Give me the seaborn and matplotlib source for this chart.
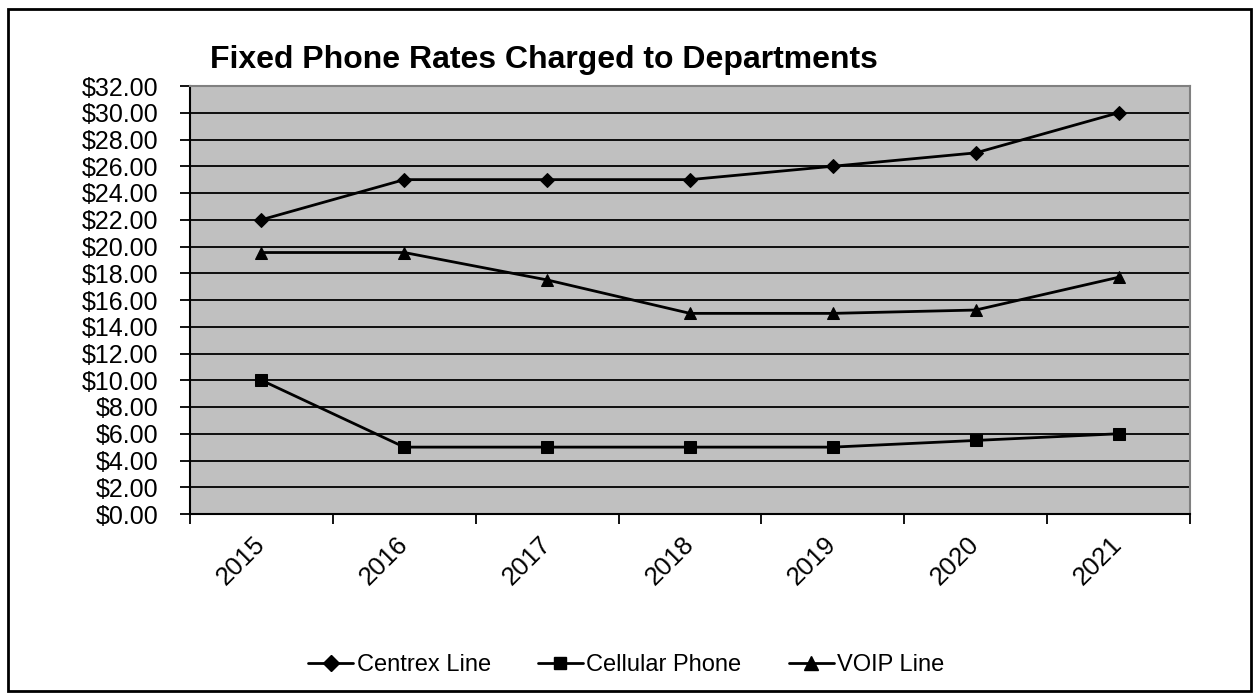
import matplotlib
matplotlib.use("Agg")
import matplotlib.pyplot as plt
import seaborn as sns
import pandas as pd
from matplotlib.patches import Rectangle
from matplotlib.ticker import FixedLocator, FuncFormatter, MultipleLocator

years = ["2015", "2016", "2017", "2018", "2019", "2020", "2021"]
centrex = [22, 25, 25, 25, 26, 27, 30]
cellular = [10, 5, 5, 5, 5, 5.5, 6]
voip = [19.55, 19.55, 17.5, 15, 15, 15.25, 17.7]
series_names = ["Centrex Line", "Cellular Phone", "VOIP Line"]
title = "Fixed Phone Rates Charged to Departments"

rows = []
for name, vals in zip(series_names, [centrex, cellular, voip]):
    for i, (y, v) in enumerate(zip(years, vals)):
        rows.append({"idx": i, "year": y, "value": v, "series": name})
df = pd.DataFrame(rows)

sns.set_theme(style="white")
plt.rcParams["font.family"] = ["Liberation Sans", "DejaVu Sans"]
plt.rcParams["text.color"] = "black"
plt.rcParams["xtick.color"] = "black"
plt.rcParams["ytick.color"] = "black"
plt.rcParams["axes.labelcolor"] = "black"

fig = plt.figure(figsize=(12.6, 7), dpi=100)
ax = fig.add_axes([190 / 1260, 1 - 514 / 700, 1000 / 1260, (514 - 86) / 700])
ax.set_facecolor("#C0C0C0")

markers = {"Centrex Line": "D", "Cellular Phone": "s", "VOIP Line": "^"}
sizes_m = {"Centrex Line": 7, "Cellular Phone": 8, "VOIP Line": 9}
sns.lineplot(data=df, x="idx", y="value", hue="series", style="series",
             markers=markers, dashes=False,
             palette={n: "black" for n in series_names},
             linewidth=2, markersize=9, ax=ax, legend=False, zorder=3)
for line, name in zip(ax.get_lines(), series_names):
    line.set_markersize(sizes_m[name])
    line.set_markerfacecolor("black")
    line.set_markeredgecolor("black")

ax.set_xlim(-0.5, len(years) - 0.5)
ax.set_ylim(0, 32)
ax.yaxis.set_major_locator(MultipleLocator(2))
ax.yaxis.set_major_formatter(FuncFormatter(lambda v, p: f"${v:,.2f}"))
ax.grid(axis="y", color="black", linewidth=1.3, zorder=1)
ax.grid(axis="x", visible=False)
ax.set_axisbelow(True)

ax.set_xticks(range(len(years)))
ax.set_xticklabels(years, rotation=45, ha="right", va="center",
                   rotation_mode="anchor", fontsize=18.5, color="black")
ax.xaxis.set_minor_locator(FixedLocator([i - 0.5 for i in range(len(years) + 1)]))
ax.tick_params(axis="x", which="major", length=0, pad=19)
ax.tick_params(axis="x", which="minor", length=7, width=1.3, color="black",
               direction="out", bottom=True)
ax.tick_params(axis="y", which="major", length=7, width=1.3, color="black",
               direction="out", left=True, labelsize=18, pad=16,
               labelcolor="black")
ax.set_xlabel("")
ax.set_ylabel("")

for s in ["left", "bottom"]:
    ax.spines[s].set_color("black")
    ax.spines[s].set_linewidth(1.5)
for s in ["top", "right"]:
    ax.spines[s].set_color("#808080")
    ax.spines[s].set_linewidth(1.5)

fig.text(210 / 1260, 1 - 68 / 700, title, fontsize=23, fontweight="bold",
         ha="left", va="baseline", color="black")

handles = [plt.Line2D([], [], color="black", linewidth=2, marker=markers[n],
                      markersize=sizes_m[n] + 1, markerfacecolor="black")
           for n in series_names]
fig.legend(handles, series_names, loc="center", bbox_to_anchor=(0.497, 1 - 665 / 700),
           ncol=3, frameon=False, fontsize=17, handlelength=1.9,
           handletextpad=0.15, columnspacing=2.0, labelcolor="black")

fig.patches.append(Rectangle((8 / 1260, 9 / 700), 1243 / 1260, 682 / 700,
                             transform=fig.transFigure, fill=False,
                             edgecolor="black", linewidth=2))

fig.savefig("out.png", dpi=100, facecolor="white")
